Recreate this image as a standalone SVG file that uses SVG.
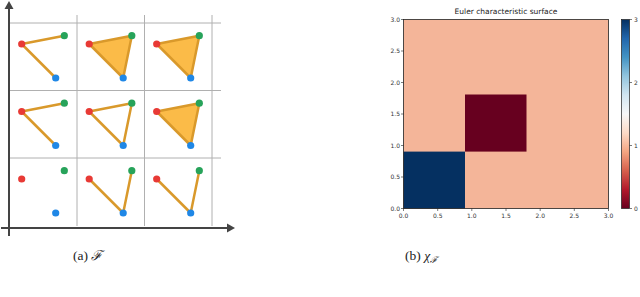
<svg xmlns="http://www.w3.org/2000/svg" width="640" height="297" viewBox="0 0 640 297">
<style>
.grid{stroke:#b0b0b0;stroke-width:1;fill:none}
.axis{stroke:#444;stroke-width:2;fill:none}
.e{stroke:#d9992b;stroke-width:2.5;stroke-linecap:round;fill:none}
.tri{fill:#fbbb48;stroke:#d9992b;stroke-width:2.5;stroke-linejoin:round}
.r{fill:#e83a35}.g{fill:#27a35a}.b{fill:#1f87e6}
.tk{font-family:"DejaVu Sans",sans-serif;font-size:6px;fill:#333}
.cap{font-family:"Liberation Serif","DejaVu Serif",serif;font-size:13.5px;fill:#222}
</style>
<defs>
<linearGradient id="rdbu" x1="0" y1="1" x2="0" y2="0">
<stop offset="0" stop-color="#67001f"/>
<stop offset="0.1" stop-color="#b2182b"/>
<stop offset="0.2" stop-color="#d6604d"/>
<stop offset="0.3" stop-color="#f4a582"/>
<stop offset="0.4" stop-color="#fddbc7"/>
<stop offset="0.5" stop-color="#f7f7f7"/>
<stop offset="0.6" stop-color="#d1e5f0"/>
<stop offset="0.7" stop-color="#92c5de"/>
<stop offset="0.8" stop-color="#4393c3"/>
<stop offset="0.9" stop-color="#2166ac"/>
<stop offset="1" stop-color="#053061"/>
</linearGradient>
</defs>
<g id="panel-a">
<g id="grid">
<line class="grid" x1="10" y1="23" x2="221" y2="23"/>
<line class="grid" x1="10" y1="90.5" x2="221" y2="90.5"/>
<line class="grid" x1="10" y1="158" x2="221" y2="158"/>
<line class="grid" x1="77" y1="15" x2="77" y2="226"/>
<line class="grid" x1="144.5" y1="15" x2="144.5" y2="226"/>
<line class="grid" x1="212" y1="15" x2="212" y2="226"/>
</g>
<g id="axes">
<line class="axis" x1="9" y1="236" x2="9" y2="8"/>
<polygon points="9,1 4.5,9 13.5,9" fill="#444"/>
<line class="axis" x1="1" y1="228" x2="228" y2="228"/>
<polygon points="235,228 227,223.5 227,232.5" fill="#444"/>
</g>
<g id="cell-0-0">
<line class="e" x1="21.7" y1="44" x2="64.3" y2="35.7"/>
<line class="e" x1="21.7" y1="44" x2="55.7" y2="78"/>
<circle class="r" cx="21.7" cy="44" r="3.6"/><circle class="g" cx="64.3" cy="35.7" r="3.6"/><circle class="b" cx="55.7" cy="78" r="3.6"/>
</g>
<g id="cell-0-1">
<polygon class="tri" points="89.2,44 131.8,35.7 123.2,78"/>
<circle class="r" cx="89.2" cy="44" r="3.6"/><circle class="g" cx="131.8" cy="35.7" r="3.6"/><circle class="b" cx="123.2" cy="78" r="3.6"/>
</g>
<g id="cell-0-2">
<polygon class="tri" points="156.7,44 199.3,35.7 190.7,78"/>
<circle class="r" cx="156.7" cy="44" r="3.6"/><circle class="g" cx="199.3" cy="35.7" r="3.6"/><circle class="b" cx="190.7" cy="78" r="3.6"/>
</g>
<g id="cell-1-0">
<line class="e" x1="21.7" y1="111.5" x2="64.3" y2="103.2"/>
<line class="e" x1="21.7" y1="111.5" x2="55.7" y2="145.5"/>
<circle class="r" cx="21.7" cy="111.5" r="3.6"/><circle class="g" cx="64.3" cy="103.2" r="3.6"/><circle class="b" cx="55.7" cy="145.5" r="3.6"/>
</g>
<g id="cell-1-1">
<line class="e" x1="89.2" y1="111.5" x2="131.8" y2="103.2"/>
<line class="e" x1="89.2" y1="111.5" x2="123.2" y2="145.5"/>
<line class="e" x1="131.8" y1="103.2" x2="123.2" y2="145.5"/>
<circle class="r" cx="89.2" cy="111.5" r="3.6"/><circle class="g" cx="131.8" cy="103.2" r="3.6"/><circle class="b" cx="123.2" cy="145.5" r="3.6"/>
</g>
<g id="cell-1-2">
<polygon class="tri" points="156.7,111.5 199.3,103.2 190.7,145.5"/>
<circle class="r" cx="156.7" cy="111.5" r="3.6"/><circle class="g" cx="199.3" cy="103.2" r="3.6"/><circle class="b" cx="190.7" cy="145.5" r="3.6"/>
</g>
<g id="cell-2-0">
<circle class="r" cx="21.7" cy="179" r="3.6"/><circle class="g" cx="64.3" cy="170.7" r="3.6"/><circle class="b" cx="55.7" cy="213" r="3.6"/>
</g>
<g id="cell-2-1">
<line class="e" x1="89.2" y1="179" x2="123.2" y2="213"/>
<line class="e" x1="131.8" y1="170.7" x2="123.2" y2="213"/>
<circle class="r" cx="89.2" cy="179" r="3.6"/><circle class="g" cx="131.8" cy="170.7" r="3.6"/><circle class="b" cx="123.2" cy="213" r="3.6"/>
</g>
<g id="cell-2-2">
<line class="e" x1="156.7" y1="179" x2="190.7" y2="213"/>
<line class="e" x1="199.3" y1="170.7" x2="190.7" y2="213"/>
<circle class="r" cx="156.7" cy="179" r="3.6"/><circle class="g" cx="199.3" cy="170.7" r="3.6"/><circle class="b" cx="190.7" cy="213" r="3.6"/>
</g>
<text class="cap" x="73" y="260">(a) <tspan font-style="italic">ℱ</tspan></text>
</g>
<g id="panel-b">
<text x="506" y="14" text-anchor="middle" font-family="DejaVu Sans, sans-serif" font-size="7.5" fill="#222">Euler characteristic surface</text>
<rect x="403.5" y="19.5" width="205" height="189" fill="#f4b599"/>
<rect x="403.5" y="151.6" width="61.5" height="56.9" fill="#053061"/>
<rect x="465" y="94.5" width="61.5" height="57.1" fill="#67001f"/>
<rect x="403.5" y="19.5" width="205" height="189" fill="none" stroke="#222" stroke-width="0.8"/>
<g stroke="#222" stroke-width="0.6">
<line x1="401" y1="19.5" x2="403.5" y2="19.5"/><line x1="401" y1="51" x2="403.5" y2="51"/><line x1="401" y1="82.5" x2="403.5" y2="82.5"/><line x1="401" y1="114" x2="403.5" y2="114"/><line x1="401" y1="145.5" x2="403.5" y2="145.5"/><line x1="401" y1="177" x2="403.5" y2="177"/><line x1="401" y1="208.5" x2="403.5" y2="208.5"/>
<line x1="403.5" y1="208.5" x2="403.5" y2="211"/><line x1="437.7" y1="208.5" x2="437.7" y2="211"/><line x1="471.8" y1="208.5" x2="471.8" y2="211"/><line x1="506" y1="208.5" x2="506" y2="211"/><line x1="540.2" y1="208.5" x2="540.2" y2="211"/><line x1="574.3" y1="208.5" x2="574.3" y2="211"/><line x1="608.5" y1="208.5" x2="608.5" y2="211"/>
</g>
<g class="tk" text-anchor="end">
<text x="400" y="21.5">3.0</text><text x="400" y="53">2.5</text><text x="400" y="84.5">2.0</text><text x="400" y="116">1.5</text><text x="400" y="147.5">1.0</text><text x="400" y="179">0.5</text><text x="400" y="210.5">0.0</text>
</g>
<g class="tk" text-anchor="middle">
<text x="403.5" y="218">0.0</text><text x="437.7" y="218">0.5</text><text x="471.8" y="218">1.0</text><text x="506" y="218">1.5</text><text x="540.2" y="218">2.0</text><text x="574.3" y="218">2.5</text><text x="608.5" y="218">3.0</text>
</g>
<rect x="621.5" y="19.5" width="8" height="189" fill="url(#rdbu)" stroke="#222" stroke-width="0.7"/>
<g stroke="#222" stroke-width="0.6">
<line x1="629.5" y1="19.5" x2="632" y2="19.5"/><line x1="629.5" y1="82.5" x2="632" y2="82.5"/><line x1="629.5" y1="145.5" x2="632" y2="145.5"/><line x1="629.5" y1="208.5" x2="632" y2="208.5"/>
</g>
<g class="tk">
<text x="634" y="21.5">3</text><text x="634" y="84.5">2</text><text x="634" y="147.5">1</text><text x="634" y="210.5">0</text>
</g>
<text class="cap" x="405" y="260">(b) <tspan font-style="italic">χ</tspan><tspan font-style="italic" font-size="9" dy="2.5">ℱ</tspan></text>
</g>
</svg>
